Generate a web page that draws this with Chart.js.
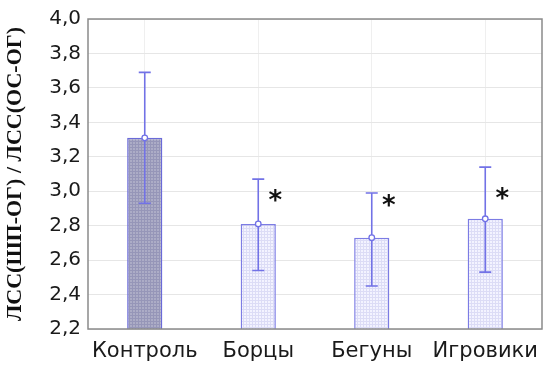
<!DOCTYPE html>
<html>
<head>
<meta charset="utf-8">
<script src="https://cdn.jsdelivr.net/npm/chart.js@4/dist/chart.umd.min.js"></script>
<style>
  html, body { margin: 0; padding: 0; background: #fff; }
  #wrap { width: 553px; height: 372px; }
</style>
</head>
<body>
<div id="wrap"><canvas id="myChart" width="553" height="372"></canvas></div>
<script>
// data
var groups = ['Контроль', 'Борцы', 'Бегуны', 'Игровики'];
var means = [3.31, 2.81, 2.73, 2.84];
var lowErr = [2.93, 2.54, 2.45, 2.53];
var highErr = [3.69, 3.07, 2.99, 3.14];
var starAt = [null, 2.96, 2.93, 2.97];   // where the * is put (value units)
var yTicks = ['2,2', '2,4', '2,6', '2,8', '3,0', '3,2', '3,4', '3,6', '3,8', '4,0'];
var yTitle = 'ЛСС(ШП-ОГ) / ЛСС(ОС-ОГ)';

function makePattern(bg, line, both) {
    var c = document.createElement('canvas');
    c.width = 3; c.height = 3;
    var g = c.getContext('2d');
    g.fillStyle = bg;
    g.fillRect(0, 0, 3, 3);
    g.fillStyle = line;
    g.fillRect(0, 0, 1, 3);
    if (both) g.fillRect(0, 0, 3, 1);
    return g.createPattern(c, 'repeat');
}

var fills = [
    makePattern('#acacc6', '#9696b8', true),
    makePattern('#f3f3ff', '#dcdcf6', true),
    makePattern('#f3f3ff', '#dcdcf6', true),
    makePattern('#f3f3ff', '#dcdcf6', true)
];
var borders = ['#6a6ad8', '#7c7ce4', '#7c7ce4', '#7c7ce4'];

var extras = {
    id: 'extras',
    afterDatasetsDraw: function (chart) {
        var ctx = chart.ctx;
        var ys = chart.scales.y;
        var meta = chart.getDatasetMeta(0);
        var a = chart.chartArea;
        ctx.save();
        // frame
        ctx.strokeStyle = '#8a8a8a';
        ctx.lineWidth = 1.5;
        ctx.strokeRect(a.left, a.top, a.right - a.left, a.bottom - a.top);
        // error bars + mean points
        meta.data.forEach(function (bar, i) {
            var x = bar.x;
            var yl = ys.getPixelForValue(lowErr[i]);
            var yh = ys.getPixelForValue(highErr[i]);
            ctx.strokeStyle = '#7272e6';
            ctx.lineWidth = 1.6;
            ctx.beginPath();
            ctx.moveTo(x, yl); ctx.lineTo(x, yh);
            ctx.moveTo(x - 6, yl); ctx.lineTo(x + 6, yl);
            ctx.moveTo(x - 6, yh); ctx.lineTo(x + 6, yh);
            ctx.stroke();
            var ym = ys.getPixelForValue(means[i]);
            ctx.beginPath();
            ctx.arc(x, ym, 2.8, 0, Math.PI * 2);
            ctx.fillStyle = '#ffffff';
            ctx.fill();
            ctx.lineWidth = 1.3;
            ctx.stroke();
            if (starAt[i] != null) {
                ctx.fillStyle = '#111';
                ctx.font = 'bold 26px "DejaVu Sans"';
                ctx.textAlign = 'center';
                ctx.textBaseline = 'middle';
                ctx.fillText('*', x + 17, ys.getPixelForValue(starAt[i]) + 4);
            }
        });
        ctx.restore();
    }
};

var ctx = document.getElementById('myChart');
new Chart(ctx, {
    type: 'bar',
    data: {
        labels: groups,
        datasets: [{
            data: means,
            backgroundColor: fills,
            borderColor: borders,
            borderWidth: 1.5,
            borderSkipped: false,
            barPercentage: 0.31,
            categoryPercentage: 1.0
        }]
    },
    options: {
        responsive: false,
        animation: false,
        layout: { padding: { left: 0, right: 11, top: 15, bottom: 0 } },
        plugins: {
            legend: { display: false },
            tooltip: { enabled: false }
        },
        scales: {
            x: {
                grid: { display: true, offset: false, color: '#efefef', drawTicks: false },
                border: { display: false },
                ticks: {
                    color: '#1a1a1a',
                    padding: 10,
                    autoSkip: false,
                    minRotation: 0,
                    maxRotation: 0,
                    font: { family: 'DejaVu Sans', size: 21 }
                },
                afterFit: function (s) { s.height = 43; }
            },
            y: {
                min: 2.2,
                max: 4.0,
                grid: { color: '#e6e6e6', drawTicks: false },
                border: { display: false },
                ticks: {
                    stepSize: 0.2,
                    padding: 7,
                    color: '#1a1a1a',
                    font: { family: 'DejaVu Sans', size: 20 },
                    callback: function (v, i) { return yTicks[i]; }
                },
                title: {
                    display: true,
                    text: yTitle,
                    color: '#111',
                    padding: { top: 2, bottom: 2 },
                    font: { family: 'Liberation Serif', size: 22, weight: 'bold' }
                },
                afterFit: function (s) { s.width = 88; }
            }
        }
    },
    plugins: [extras]
});
</script>
</body>
</html>
